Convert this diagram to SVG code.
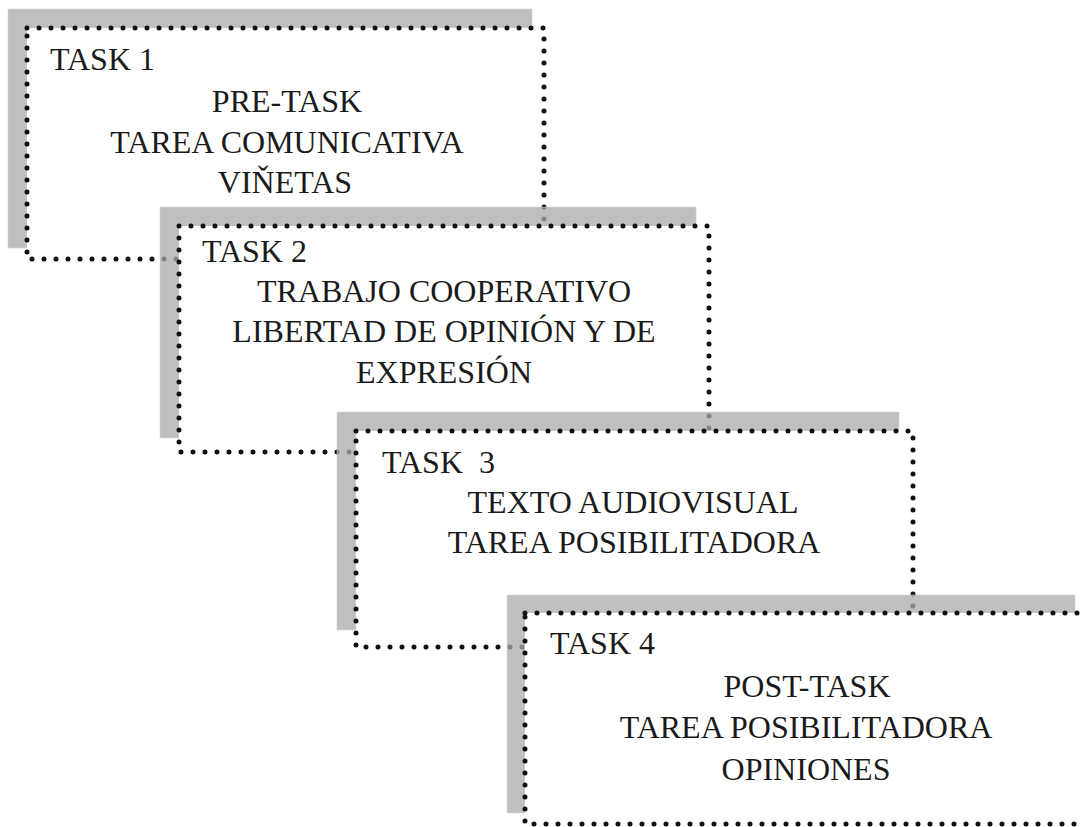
<svg xmlns="http://www.w3.org/2000/svg" width="1082" height="827" viewBox="0 0 1082 827">
<style>
.bg{fill:#ffffff}
.shadow{fill:#a9a9a9;fill-opacity:0.75;stroke:#d6d6d6;stroke-width:1;stroke-opacity:0.6}
.box{fill:#ffffff;stroke:#111111;stroke-width:5;stroke-linecap:round;stroke-dasharray:0 12}
text{font-family:"Liberation Serif","Times New Roman",serif;font-size:32px;fill:#1a1a1a}
.c{text-anchor:middle}
.pre{white-space:pre}
</style>
<rect class="bg" x="0" y="0" width="1082" height="827"/>
<g id="task1">
<path class="shadow" d="M8 9 H532 V28 H27 V248 H8 Z"/>
<rect class="box" x="27" y="28" width="517" height="231"/>
<text x="50" y="70">TASK 1</text>
<text class="c" x="287" y="112">PRE-TASK</text>
<text class="c" x="287" y="153">TAREA COMUNICATIVA</text>
<text class="c" x="285" y="193">VIŇETAS</text>
</g>
<g id="task2">
<path class="shadow" d="M160 207 H696 V226 H179 V438 H160 Z"/>
<rect class="box" x="179" y="226" width="530" height="226"/>
<text x="202" y="262">TASK 2</text>
<text class="c" x="444" y="302">TRABAJO COOPERATIVO</text>
<text class="c" x="444" y="342">LIBERTAD DE OPINIÓN Y DE</text>
<text class="c" x="444" y="383">EXPRESIÓN</text>
</g>
<g id="task3">
<path class="shadow" d="M337 412 H899 V431 H356 V630 H337 Z"/>
<rect class="box" x="356" y="431" width="557" height="216"/>
<text class="pre" x="382" y="473">TASK  3</text>
<text class="c" x="633" y="513">TEXTO AUDIOVISUAL</text>
<text class="c" x="634" y="553">TAREA POSIBILITADORA</text>
</g>
<g id="task4">
<path class="shadow" d="M507 595 H1075 V613 H525 V813 H507 Z"/>
<rect class="box" x="525" y="613" width="565" height="211"/>
<text x="550" y="654">TASK 4</text>
<text class="c" x="807" y="697">POST-TASK</text>
<text class="c" x="806" y="738">TAREA POSIBILITADORA</text>
<text class="c" x="806" y="780">OPINIONES</text>
</g>
<g id="connectors"></g>
</svg>
